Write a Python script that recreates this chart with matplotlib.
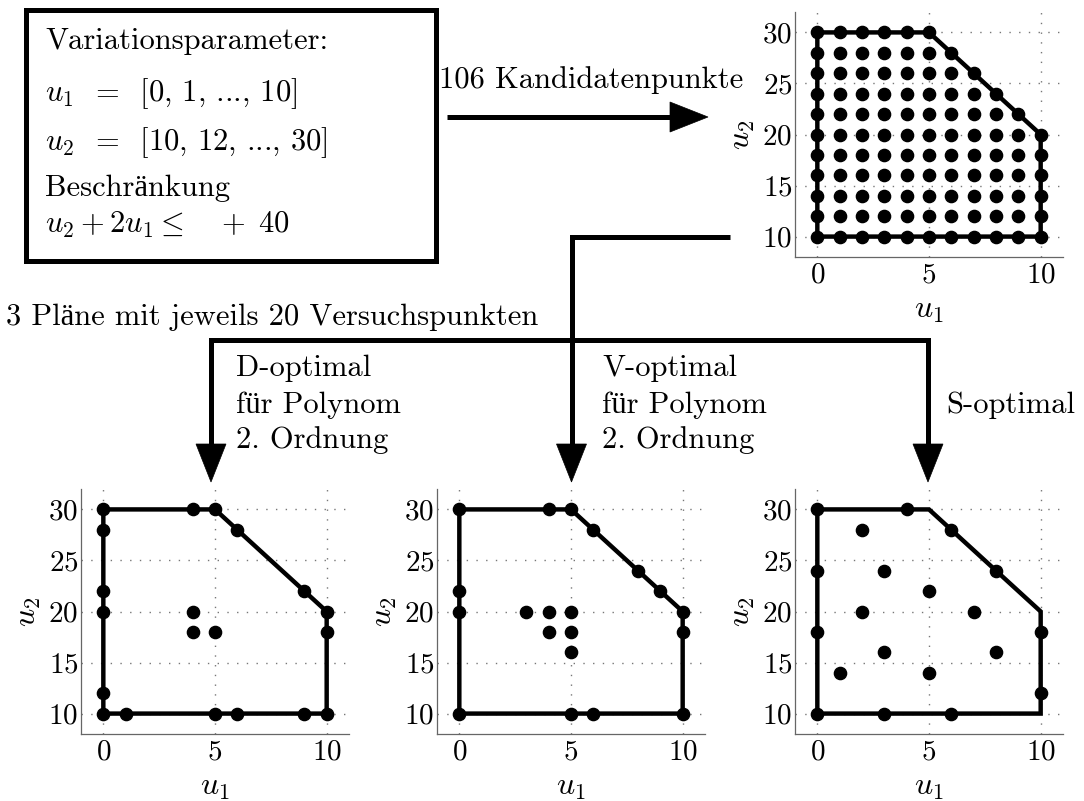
import matplotlib
matplotlib.use("Agg")
import matplotlib.pyplot as plt
from matplotlib.patches import Polygon, Rectangle

plt.rcParams["font.family"] = ["cmr10", "Liberation Serif"]
plt.rcParams["mathtext.fontset"] = "cm"
plt.rcParams["axes.unicode_minus"] = False
plt.rcParams["axes.formatter.use_mathtext"] = True

W, H = 1084, 801

# Feasible region: 0 <= u1 <= 10, 10 <= u2 <= 30, u2 + 2*u1 <= 40
region_u1 = [0, 0, 5, 10, 10, 0]
region_u2 = [10, 30, 30, 20, 10, 10]

# Candidate grid: u1 levels and the highest admissible u2 level per column (step 2)
cand_u1_levels = [0, 1, 2, 3, 4, 5, 6, 7, 8, 9, 10]
cand_u2_max = [30, 30, 30, 30, 30, 30, 28, 26, 24, 22, 20]

# D-optimal design, 20 runs
d_u1 = [0, 0, 0, 0, 0, 0, 1, 4, 4, 4, 5, 5, 5, 6, 6, 9, 9, 10, 10, 10]
d_u2 = [10, 12, 20, 22, 28, 30, 10, 18, 20, 30, 10, 18, 30, 10, 28, 10, 22, 10, 18, 20]

# V-optimal design, 20 runs
v_u1 = [0, 0, 0, 0, 3, 4, 4, 4, 5, 5, 5, 5, 5, 6, 6, 8, 9, 10, 10, 10]
v_u2 = [10, 20, 22, 30, 20, 18, 20, 30, 10, 16, 18, 20, 30, 10, 28, 24, 22, 10, 18, 20]

# S-optimal design, 20 runs
s_u1 = [0, 0, 0, 0, 1, 2, 2, 3, 3, 3, 4, 5, 5, 6, 6, 7, 8, 8, 10, 10]
s_u2 = [10, 18, 24, 30, 14, 20, 28, 10, 16, 24, 30, 14, 22, 10, 28, 20, 16, 24, 12, 18]

x_ticks = [0, 5, 10]
y_ticks = [10, 15, 20, 25, 30]

TICK_FS = 21
LABEL_FS = 23
TEXT_FS = 22

fig = plt.figure(figsize=(W / 100, H / 100), dpi=100)

# Full-figure layer in pixel coordinates for the box, arrows and captions
ov = fig.add_axes([0, 0, 1, 1], zorder=-1)
ov.set_xlim(0, W)
ov.set_ylim(H, 0)
ov.axis("off")


def design_axes(x0, x1, ytop, ybot, u1, u2):
    ax = fig.add_axes([x0 / W, 1 - ybot / H, (x1 - x0) / W, (ybot - ytop) / H])
    ax.set_xlim(-1, 11)
    ax.set_ylim(8, 32)
    ax.set_xticks(x_ticks)
    ax.set_yticks(y_ticks)
    ax.tick_params(length=0, labelsize=TICK_FS)
    ax.tick_params(axis="y", pad=2)
    ax.tick_params(axis="x", pad=4)
    for side in ("top", "right"):
        ax.spines[side].set_visible(False)
    for side in ("left", "bottom"):
        ax.spines[side].set_color("#666666")
        ax.spines[side].set_linewidth(0.9)
    ax.set_axisbelow(True)
    ax.grid(True, linestyle=(0, (1, 6)), color="#777777", linewidth=1.0)
    ax.plot(region_u1, region_u2, color="black", lw=3.2,
            solid_joinstyle="miter", zorder=2)
    ax.plot(u1, u2, "o", color="black", ms=8.8, zorder=3, clip_on=False)
    ax.set_xlabel(r"$u_1$", fontsize=LABEL_FS, labelpad=6)
    ax.set_ylabel(r"$u_2$", fontsize=LABEL_FS, labelpad=4)
    return ax


cand_u1, cand_u2 = [], []
for c, top in zip(cand_u1_levels, cand_u2_max):
    for v in range(10, top + 1, 2):
        cand_u1.append(c)
        cand_u2.append(v)

design_axes(795, 1063, 12, 257, cand_u1, cand_u2)
design_axes(81, 349, 489, 734, d_u1, d_u2)
design_axes(437, 705, 489, 734, v_u1, v_u2)
design_axes(795, 1063, 489, 734, s_u1, s_u2)

# Parameter box
ov.add_patch(Rectangle((25.5, 9.5), 410, 251, fill=False, lw=3.6,
                       edgecolor="black", joinstyle="miter"))
box_lines = [
    ("Variationsparameter:", 49),
    (r"$u_1$  =  [0, 1, ..., 10]", 101),
    (r"$u_2$  =  [10, 12, ..., 30]", 150),
    ("Beschränkung", 196),
    (r"$u_2 + 2u_1 \leq\ \ \ +\;40$", 233),
]
for txt, yb in box_lines:
    ov.text(45, yb, txt, fontsize=TEXT_FS, ha="left", va="baseline")

LW = 3.6
HEAD_L, HEAD_W = 38, 30


def arrow_head_right(x_tip, y):
    ov.add_patch(Polygon([(x_tip - HEAD_L, y - HEAD_W / 2), (x_tip, y),
                          (x_tip - HEAD_L, y + HEAD_W / 2)], closed=True,
                         facecolor="black", edgecolor="black", lw=0.5))


def arrow_head_down(x, y_tip):
    ov.add_patch(Polygon([(x - HEAD_W / 2, y_tip - HEAD_L), (x, y_tip),
                          (x + HEAD_W / 2, y_tip - HEAD_L)], closed=True,
                         facecolor="black", edgecolor="black", lw=0.5))


# Arrow to the candidate set
ov.plot([447, 672], [117, 117], color="black", lw=LW, solid_capstyle="butt")
arrow_head_right(708, 117)
ov.text(439, 88, "106 Kandidatenpunkte", fontsize=TEXT_FS, ha="left", va="baseline")

# Branching connector to the three designs
ov.plot([730, 571.5, 571.5], [237, 237, 445], color="black", lw=LW,
        solid_joinstyle="miter", solid_capstyle="butt")
ov.plot([211, 211, 928, 928], [445, 340, 340, 445], color="black", lw=LW,
        solid_joinstyle="miter", solid_capstyle="butt")
for xa in (211, 571.5, 928):
    arrow_head_down(xa, 482)

ov.text(6, 325, "3 Pläne mit jeweils 20 Versuchspunkten", fontsize=TEXT_FS,
        ha="left", va="baseline")

for x0, lines in ((236, ["D-optimal", "für Polynom", "2. Ordnung"]),
                  (602, ["V-optimal", "für Polynom", "2. Ordnung"])):
    for txt, yb in zip(lines, (376, 413, 448)):
        ov.text(x0, yb, txt, fontsize=TEXT_FS, ha="left", va="baseline")
ov.text(946, 413, "S-optimal", fontsize=TEXT_FS, ha="left", va="baseline")

fig.savefig("out.png", dpi=100)
